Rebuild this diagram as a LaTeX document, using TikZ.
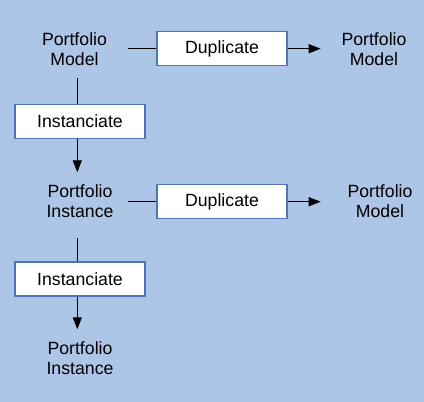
\documentclass[tikz,border=0pt]{standalone}
\usepackage{fontspec}
\setmainfont{Liberation Sans}
\usetikzlibrary{arrows.meta,calc}
\definecolor{bg}{HTML}{ADC6E8}
\definecolor{boxline}{HTML}{4F77B5}
\begin{document}
\begin{tikzpicture}[x=1pt,y=-1pt,
  lbl/.style={align=center,inner sep=0pt,font=\fontsize{17.7}{20}\selectfont},
  op/.style={draw=boxline,line width=1.3pt,fill=white,minimum width=130pt,minimum height=34pt,inner sep=0pt,font=\fontsize{17.7}{20}\selectfont},
  conn/.style={line width=1.3pt},
  arr/.style={line width=1.3pt,-{Triangle[length=12pt,width=9pt]}}]
\fill[bg] (0,0) rectangle (424,402);
\useasboundingbox (0,0) rectangle (424,402);
\node[lbl] (pm1) at (74.5,49) {Portfolio\\Model};
\node[op] (d1) at (222,48.7) {Duplicate};
\node[lbl] (pm2) at (374,49) {Portfolio\\Model};
\node[op] (i1) at (80,121.5) {Instanciate};
\node[lbl] (pi1) at (80,201.5) {Portfolio\\Instance};
\node[op] (d2) at (222,201.7) {Duplicate};
\node[lbl] (pm3) at (380,201.5) {Portfolio\\Model};
\node[op] (i2) at (80,279) {Instanciate};
\node[lbl] (pi2) at (80,358.5) {Portfolio\\Instance};
\coordinate (vx) at (77.3,0);
% connectors
\draw[conn] (d1.west -| 128,0) -- (d1.west);
\draw[arr] (d1.east) -- (d1.east -| 320.7,0);
\draw[conn] ([yshift=-12pt]pm1.south -| vx) -- (i1.north -| vx);
\draw[arr] (i1.south -| vx) -- ([yshift=12.5pt]pi1.north -| vx);
\draw[conn] (d2.west -| 128,0) -- (d2.west);
\draw[arr] (d2.east) -- (d2.east -| 320.7,0);
\draw[conn] ([yshift=-20pt]pi1.south -| vx) -- (i2.north -| vx);
\draw[arr] (i2.south -| vx) -- ([yshift=12.5pt]pi2.north -| vx);
\end{tikzpicture}
\end{document}
